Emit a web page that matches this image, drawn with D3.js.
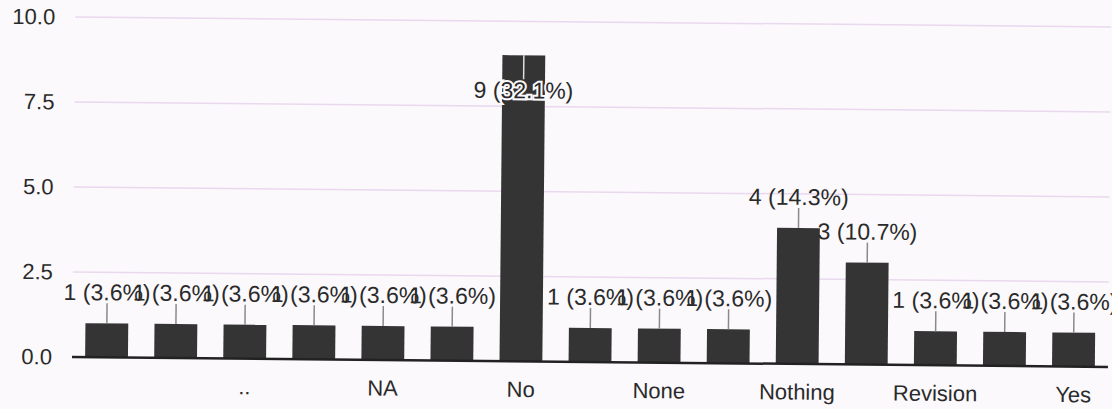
<!DOCTYPE html>
<html>
<head>
<meta charset="utf-8">
<script src="https://cdn.jsdelivr.net/npm/d3@7"></script>
<style>
  html, body { margin: 0; padding: 0; background: #fbf9fc; }
  #mainDiv { width: 1112px; height: 409px; overflow: hidden; }
</style>
</head>
<body>
<div id="mainDiv"></div>
<script>
'use strict';

// answers, in the order the chart shows them (only every other name is printed)
var tickLabels = ["", "", "..", "", "NA", "", "No", "", "None", "", "Nothing", "", "Revision", "", "Yes"];
var counts = [1, 1, 1, 1, 1, 1, 9, 1, 1, 1, 4, 3, 1, 1, 1];
var yTicks = [0, 2.5, 5, 7.5, 10];

var myApp = {};

myApp.appendSvg = function (element, w, h)
{
    return d3.select(element).append("svg")
        .attr("width", w)
        .attr("height", h);
}

myApp.run = function ()
{
    var svg = myApp.appendSvg("#mainDiv", 1112, 409);
    var total = d3.sum(counts);
    var font = "'Liberation Sans', Arial, sans-serif";

    var left = 72, right = 1108, top = 17, bottom = 357;

    // the scan is tilted a little, so tilt the whole drawing the same way
    var g = svg.append("g")
        .attr("transform", "rotate(0.55," + left + "," + bottom + ")");

    var x = d3.scaleBand()
        .domain(d3.range(counts.length))
        .range([left, right])
        .paddingInner(0.38)
        .paddingOuter(0.19);

    var y = d3.scaleLinear()
        .domain([0, 10])
        .range([bottom, top]);

    // grid lines
    g.selectAll("line.grid")
        .data(yTicks.slice(1))
        .enter()
        .append("line")
            .attr("class", "grid")
            .attr("x1", left)
            .attr("x2", right)
            .attr("y1", function(d){ return y(d); })
            .attr("y2", function(d){ return y(d); })
            .attr("stroke", "#ead8ef")
            .attr("stroke-width", 1.5);

    // y axis labels
    var yAxis = d3.axisLeft(y)
        .tickValues(yTicks)
        .tickFormat(d3.format(".1f"))
        .tickSize(0)
        .tickPadding(20);
    var ya = g.append("g")
        .attr("transform", "translate(" + left + ",0)")
        .call(yAxis);
    ya.select(".domain").remove();
    ya.selectAll("text")
        .attr("font-family", font)
        .attr("font-size", "22px")
        .attr("fill", "#2a2a2a");

    // bars
    g.selectAll("rect.bar")
        .data(counts)
        .enter()
        .append("rect")
            .attr("class", "bar")
            .attr("x", function(d, i){ return x(i); })
            .attr("y", function(d){ return y(d); })
            .attr("width", x.bandwidth())
            .attr("height", function(d){ return y(0) - y(d); })
            .attr("fill", "#343434");

    // baseline
    g.append("line")
        .attr("x1", left)
        .attr("x2", right)
        .attr("y1", y(0))
        .attr("y2", y(0))
        .attr("stroke", "#222")
        .attr("stroke-width", 2.5);

    // x axis labels
    var xAxis = d3.axisBottom(x)
        .tickFormat(function(i){ return tickLabels[i]; })
        .tickSize(0)
        .tickPadding(20);
    var xa = g.append("g")
        .attr("transform", "translate(0," + y(0) + ")")
        .call(xAxis);
    xa.select(".domain").remove();
    xa.selectAll("text")
        .attr("font-family", font)
        .attr("font-size", "22px")
        .attr("fill", "#2a2a2a");

    var maxValue = d3.max(counts);
    var pct = d3.format(".1f");
    var inside = function(d){ return d === maxValue; };

    // leader lines
    g.selectAll("line.lead")
        .data(counts)
        .enter()
        .append("line")
            .attr("class", "lead")
            .attr("x1", function(d, i){ return x(i) + x.bandwidth() / 2; })
            .attr("x2", function(d, i){ return x(i) + x.bandwidth() / 2; })
            .attr("y1", function(d){ return y(d); })
            .attr("y2", function(d){ return inside(d) ? y(d) + 24 : y(d) - 20; })
            .attr("stroke", function(d){ return inside(d) ? "#ddd" : "#8a8a8a"; })
            .attr("stroke-width", 1.5);

    // value labels (they overlap each other in the original too)
    g.selectAll("text.val")
        .data(counts)
        .enter()
        .append("text")
            .attr("class", "val")
            .text(function(d){ return d + " (" + pct(d / total * 100) + "%)"; })
            .attr("text-anchor", "middle")
            .attr("x", function(d, i){ return x(i) + x.bandwidth() / 2; })
            .attr("y", function(d){ return inside(d) ? y(d) + 43 : y(d) - 23; })
            .attr("font-family", font)
            .attr("font-size", "23px")
            .attr("fill", "#2a2a2a")
            .attr("stroke", function(d){ return inside(d) ? "#fbf9fc" : "none"; })
            .attr("stroke-width", 4)
            .attr("paint-order", "stroke");
}

window.onload = myApp.run;
</script>
</body>
</html>
